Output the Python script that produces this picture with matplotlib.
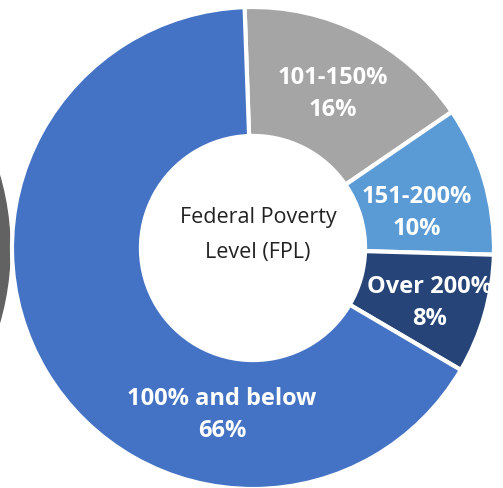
import matplotlib.pyplot as plt
from matplotlib.patches import Circle

# data
categories = ['101-150%', '151-200%', 'Over 200%', '100% and below']
shares = [16, 10, 8, 66]
colors = ['#A5A5A5', '#5B9BD5', '#264478', '#4472C4']

plt.rcParams['font.family'] = ['Open Sans', 'DejaVu Sans']

fig = plt.figure(figsize=(5.03, 4.89), dpi=100)
ax = fig.add_axes([0, 0, 1, 1])

# edge of the neighbouring chart on the left
ax.add_patch(Circle((-254, 239), 264, color='#626262', zorder=0))

cx, cy, R = 253, 240, 241
ax.pie(shares, colors=colors, startangle=92, counterclock=False,
       center=(cx, cy), radius=R, frame=True,
       wedgeprops=dict(width=R * 0.535, edgecolor='white', linewidth=3))
ax.set_xlim(0, 503)
ax.set_ylim(0, 489)
ax.set_aspect('equal')
ax.axis('off')

# label positions (pixel coords from top)
label_pos = [(333, 94), (417, 213), (430, 303), (222, 415)]
for name, val, (x, y) in zip(categories, shares, label_pos):
    ax.text(x, 489 - y, f'{name}\n{val}%', color='white', fontsize=17,
            fontweight='bold', ha='center', va='center', linespacing=1.45)

ax.text(258, 489 - 235, 'Federal Poverty\nLevel (FPL)', color='#222222',
        fontsize=15.5, ha='center', va='center', linespacing=1.9)

plt.savefig('out.png', dpi=100)
